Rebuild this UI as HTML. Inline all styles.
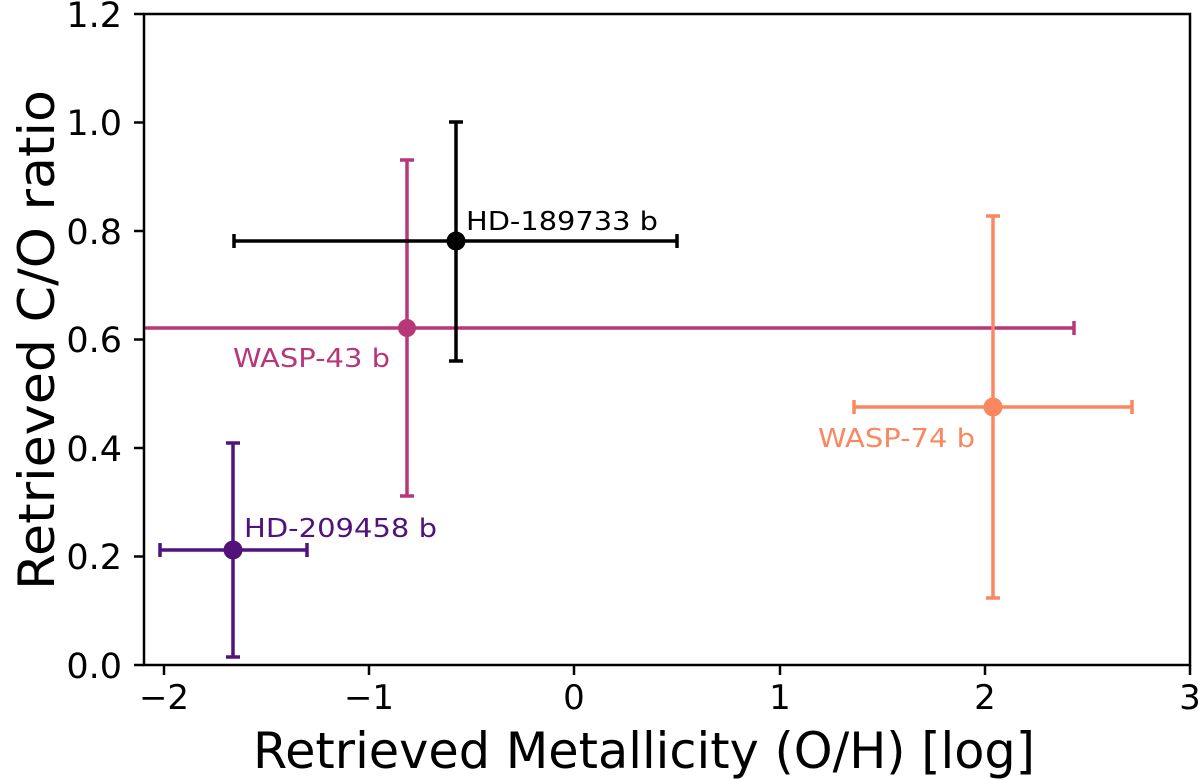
<!DOCTYPE html>
<html><head><meta charset="utf-8"><style>html,body{margin:0;padding:0;background:#fff}svg{display:block}</style></head>
<body>
<svg width="1200" height="780" viewBox="0 0 1200 780" font-family="DejaVu Sans, Liberation Sans, sans-serif">
<rect width="1200" height="780" fill="#fff"/>
<!-- WASP-43 -->
<g stroke="#b73779" stroke-width="3.5" fill="none">
<line x1="145" y1="328" x2="1074" y2="328"/><line x1="1074" y1="321" x2="1074" y2="335"/>
<line x1="407" y1="160" x2="407" y2="496"/><line x1="400" y1="160" x2="414" y2="160"/><line x1="400" y1="496" x2="414" y2="496"/>
</g>
<circle cx="407" cy="328" r="9" fill="#b73779"/>
<!-- HD-189733 -->
<g stroke="#000" stroke-width="3.5">
<line x1="234" y1="241" x2="677" y2="241"/><line x1="234" y1="234" x2="234" y2="248"/><line x1="677" y1="234" x2="677" y2="248"/>
<line x1="456" y1="122" x2="456" y2="361"/><line x1="449" y1="122" x2="463" y2="122"/><line x1="449" y1="361" x2="463" y2="361"/>
</g>
<circle cx="456" cy="241" r="9.5" fill="#000"/>
<!-- WASP-74 -->
<g stroke="#fb8761" stroke-width="3.5">
<line x1="854" y1="407" x2="1132" y2="407"/><line x1="854" y1="400" x2="854" y2="414"/><line x1="1132" y1="400" x2="1132" y2="414"/>
<line x1="993" y1="216" x2="993" y2="598"/><line x1="986" y1="216" x2="1000" y2="216"/><line x1="986" y1="598" x2="1000" y2="598"/>
</g>
<circle cx="993" cy="407" r="9.5" fill="#fb8761"/>
<!-- HD-209458 -->
<g stroke="#51127c" stroke-width="3.5">
<line x1="160" y1="550" x2="307" y2="550"/><line x1="160" y1="543" x2="160" y2="557"/><line x1="307" y1="543" x2="307" y2="557"/>
<line x1="233" y1="443" x2="233" y2="657"/><line x1="226" y1="443" x2="240" y2="443"/><line x1="226" y1="657" x2="240" y2="657"/>
</g>
<circle cx="233" cy="550" r="9.5" fill="#51127c"/>
<!-- labels -->
<g font-size="26">
<text x="466" y="230" fill="#000" textLength="192" lengthAdjust="spacingAndGlyphs">HD-189733 b</text>
<text x="233" y="367" fill="#b73779" textLength="157" lengthAdjust="spacingAndGlyphs">WASP-43 b</text>
<text x="818" y="447" fill="#fb8761" textLength="157" lengthAdjust="spacingAndGlyphs">WASP-74 b</text>
<text x="244" y="537" fill="#51127c" textLength="193" lengthAdjust="spacingAndGlyphs">HD-209458 b</text>
</g>
<!-- axes -->
<rect x="144" y="14" width="1046" height="651" fill="none" stroke="#000" stroke-width="2.5"/>
<g stroke="#000" stroke-width="2.5">
<line x1="134" y1="14" x2="144" y2="14"/><line x1="134" y1="122.5" x2="144" y2="122.5"/><line x1="134" y1="231" x2="144" y2="231"/>
<line x1="134" y1="339.5" x2="144" y2="339.5"/><line x1="134" y1="448" x2="144" y2="448"/><line x1="134" y1="556.5" x2="144" y2="556.5"/><line x1="134" y1="665" x2="144" y2="665"/>
<line x1="164" y1="665" x2="164" y2="675"/><line x1="369" y1="665" x2="369" y2="675"/><line x1="574" y1="665" x2="574" y2="675"/>
<line x1="780" y1="665" x2="780" y2="675"/><line x1="985" y1="665" x2="985" y2="675"/><line x1="1190" y1="665" x2="1190" y2="675"/>
</g>
<g font-size="35" fill="#000" text-anchor="end">
<text x="122" y="27">1.2</text><text x="122" y="135">1.0</text><text x="122" y="244">0.8</text>
<text x="122" y="352">0.6</text><text x="122" y="461">0.4</text><text x="122" y="569">0.2</text><text x="122" y="678">0.0</text>
</g>
<g font-size="34" fill="#000" text-anchor="middle">
<text x="164" y="709">−2</text><text x="369" y="709">−1</text><text x="574" y="709">0</text>
<text x="780" y="709">1</text><text x="985" y="709">2</text><text x="1190" y="709">3</text>
</g>
<text x="253" y="768" font-size="50" fill="#000" textLength="782" lengthAdjust="spacingAndGlyphs">Retrieved Metallicity (O/H) [log]</text>
<text transform="translate(54,340) rotate(-90)" text-anchor="middle" font-size="50" fill="#000" textLength="500" lengthAdjust="spacingAndGlyphs">Retrieved C/O ratio</text>
</svg>
</body></html>
